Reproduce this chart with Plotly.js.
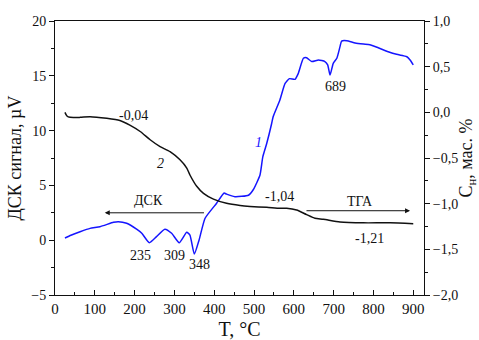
<!DOCTYPE html>
<html>
<head>
<meta charset="utf-8">
<script src="https://cdn.plot.ly/plotly-3.0.1.min.js"></script>
<style>html,body{margin:0;padding:0;background:#fff;}#chart{width:479px;height:340px;}</style>
</head>
<body>
<div id="chart"></div>
<script>
// DSC curve (left axis, µV)
var dscT = [25, 40, 63, 88, 113, 147, 159, 180, 205, 218, 237, 255, 276, 293, 312, 331, 339, 350, 362, 377, 406, 425, 431, 452, 486, 498, 515, 522, 532, 544, 548, 565, 578, 589, 603, 611, 624, 632, 645, 662, 678, 685, 691, 699, 708, 716, 720, 733, 754, 775, 791, 812, 837, 858, 875, 884, 892, 900];
var dscV = [0.2, 0.45, 0.77, 1.08, 1.23, 1.63, 1.69, 1.54, 1.0, 0.63, -0.23, 0.32, 1.0, 0.63, -0.23, 0.72, 0.47, -1.26, 0.02, 2.0, 3.37, 4.3, 4.2, 3.97, 4.1, 4.6, 5.95, 7.6, 8.84, 10.6, 11.27, 12.8, 14.3, 14.74, 14.68, 15.2, 16.6, 16.65, 16.3, 16.44, 16.3, 16.0, 15.07, 16.14, 16.6, 17.66, 18.17, 18.2, 18.0, 17.9, 17.84, 17.56, 17.2, 16.96, 16.83, 16.74, 16.44, 15.99];
// TGA curve (right axis, mass %)
var tgaT = [25, 30, 38, 63, 88, 130, 163, 188, 214, 239, 264, 289, 314, 331, 339, 356, 373, 398, 431, 465, 490, 532, 565, 582, 607, 632, 653, 674, 716, 775, 842, 900];
var tgaC = [0.0, -0.04, -0.055, -0.055, -0.048, -0.066, -0.09, -0.14, -0.21, -0.30, -0.376, -0.43, -0.52, -0.61, -0.686, -0.81, -0.887, -0.95, -0.996, -1.02, -1.03, -1.04, -1.05, -1.05, -1.07, -1.12, -1.16, -1.17, -1.20, -1.21, -1.21, -1.22];

var labelText = ["-0,04", "ДСК", "235", "309", "348", "-1,04", "ТГА", "-1,21", "689"];
var labelX = [196, 234, 216, 299, 364, 563, 766, 791, 704];
var labelY = [11.4, 3.6, -1.35, -1.44, -2.26, 4.03, 3.49, 0.2, 13.98];

var F = "Liberation Serif, Times New Roman, serif";

var traces = [
  {x: dscT, y: dscV, mode: 'lines', line: {color: '#1515ff', width: 1.5, shape: 'spline', smoothing: 0.5}, hoverinfo: 'skip', showlegend: false},
  {x: tgaT, y: tgaC, yaxis: 'y2', mode: 'lines', line: {color: '#111', width: 1.5, shape: 'spline', smoothing: 0.6}, hoverinfo: 'skip', showlegend: false}
];

var ann = labelText.map(function(t, i) {
  return {x: labelX[i], y: labelY[i], xref: 'x', yref: 'y', text: t, showarrow: false, font: {family: F, size: 14, color: '#111'}};
});
ann.push({x: 264, y: 7.04, xref: 'x', yref: 'y', text: '<i>2</i>', showarrow: false, font: {family: F, size: 14, color: '#111'}});
ann.push({x: 510, y: 8.96, xref: 'x', yref: 'y', text: '<i>1</i>', showarrow: false, font: {family: F, size: 14, color: '#1515ff'}});
ann.push({x: 125, y: 2.5, ax: 378, ay: 2.5, xref: 'x', yref: 'y', axref: 'x', ayref: 'y', text: '', showarrow: true, arrowhead: 2, arrowsize: 1, arrowwidth: 1, arrowcolor: '#111'});
ann.push({x: 892, y: 2.69, ax: 628, ay: 2.69, xref: 'x', yref: 'y', axref: 'x', ayref: 'y', text: '', showarrow: true, arrowhead: 2, arrowsize: 1, arrowwidth: 1, arrowcolor: '#111'});

var layout = {
  width: 479, height: 340,
  margin: {l: 55, r: 55, t: 21, b: 45},
  paper_bgcolor: '#fff', plot_bgcolor: '#fff',
  separators: ', ',
  font: {family: F, size: 14, color: '#111'},
  showlegend: false,
  xaxis: {
    range: [0, 927], dtick: 100, tick0: 0, showgrid: false, zeroline: false,
    showline: true, linecolor: '#111', linewidth: 1, mirror: true,
    ticks: 'inside', ticklen: 5, tickcolor: '#111',
    minor: {dtick: 50, ticks: 'inside', ticklen: 3, tickcolor: '#111'},
    tickfont: {family: F, size: 15, color: '#111'},
    title: {text: 'T, °C', font: {family: F, size: 20, color: '#111'}, standoff: 6}
  },
  yaxis: {
    range: [-5, 20], dtick: 5, showgrid: false, zeroline: false,
    showline: true, linecolor: '#111', linewidth: 1,
    ticks: 'outside', ticklen: 5, tickcolor: '#111',
    minor: {dtick: 2.5, ticks: 'outside', ticklen: 3, tickcolor: '#111'},
    tickfont: {family: F, size: 14, color: '#111'},
    title: {text: 'ДСК сигнал, µV', font: {family: F, size: 18, color: '#111'}, standoff: 4}
  },
  yaxis2: {
    overlaying: 'y', side: 'right', range: [-2, 1], dtick: 0.5, tickformat: '.1f',
    showgrid: false, zeroline: false,
    showline: true, linecolor: '#111', linewidth: 1,
    ticks: 'outside', ticklen: 5, tickcolor: '#111',
    minor: {dtick: 0.25, ticks: 'outside', ticklen: 3, tickcolor: '#111'},
    tickfont: {family: F, size: 14, color: '#111'},
    title: {text: 'C<sub>н</sub>, мас. %', font: {family: F, size: 18, color: '#111'}, standoff: 2}
  },
  annotations: ann
};

Plotly.newPlot('chart', traces, layout, {staticPlot: true, displayModeBar: false});
</script>
</body>
</html>
